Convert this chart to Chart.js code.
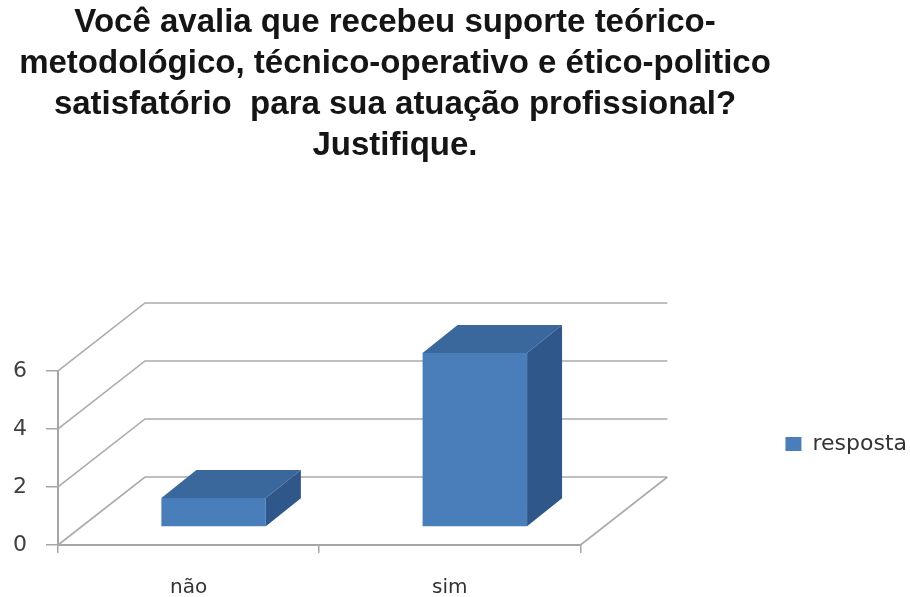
<!DOCTYPE html>
<html lang="pt">
<head>
    <meta charset="UTF-8">
    <title>Suporte para atuação profissional</title>
    <script src="https://cdn.jsdelivr.net/npm/chart.js"></script>
    <style>
        body { margin: 0; background: #fff; }
    </style>
</head>
<body>

    <canvas id="respostaChart" width="910" height="597"></canvas>

    <script>
        const titleLines = [
            'Você avalia que recebeu suporte teórico-',
            'metodológico, técnico-operativo e ético-politico',
            'satisfatório  para sua atuação profissional?',
            'Justifique.'
        ];
        const categories = ['não', 'sim'];
        const respostaValues = [1, 6];
        const seriesLabel = 'resposta';
        const yMin = 0, yMax = 6, yStep = 2;

        // fake 3D: depth of the walls and of the bars
        const WALL_DX = 87, WALL_DY = -68;
        const BAR_OX = 25, BAR_OY = -18;
        const BAR_DX = 35, BAR_DY = -28;

        const gridGray = '#ababab';
        const axisGray = '#a6a6a6';

        const depth3d = {
            id: 'depth3d',
            afterLayout(chart) {
                // title centred a bit left of the canvas, legend pushed to the right
                chart.titleBlock.left = -120;
                chart.titleBlock.right = 910;
                chart.legend.left += 195;
                chart.legend.right += 195;
                chart.legend.top = 424;
                chart.legend.bottom = 464;
            },
            beforeDatasetsDraw(chart) {
                const { ctx, chartArea: a, scales: { y } } = chart;
                ctx.save();
                ctx.strokeStyle = gridGray;
                ctx.lineWidth = 1.6;
                ctx.beginPath();
                y.ticks.forEach(t => {
                    const py = y.getPixelForValue(t.value);
                    ctx.moveTo(a.left, py);
                    ctx.lineTo(a.left + WALL_DX, py + WALL_DY);
                    ctx.lineTo(a.right + WALL_DX, py + WALL_DY);
                });
                const py0 = y.getPixelForValue(yMin);
                ctx.moveTo(a.right, py0);
                ctx.lineTo(a.right + WALL_DX, py0 + WALL_DY);
                ctx.stroke();

                // top and side faces of each bar
                chart.getDatasetMeta(0).data.forEach(bar => {
                    const { x, y: top, base, width } = bar.getProps(['x', 'y', 'base', 'width'], true);
                    const L = x - width / 2 + BAR_OX, R = x + width / 2 + BAR_OX;
                    const T = top + BAR_OY, B = base + BAR_OY;
                    ctx.fillStyle = '#3a679c';
                    ctx.beginPath();
                    ctx.moveTo(L, T);
                    ctx.lineTo(L + BAR_DX, T + BAR_DY);
                    ctx.lineTo(R + BAR_DX, T + BAR_DY);
                    ctx.lineTo(R, T);
                    ctx.closePath();
                    ctx.fill();
                    ctx.fillStyle = '#30578a';
                    ctx.beginPath();
                    ctx.moveTo(R, T);
                    ctx.lineTo(R + BAR_DX, T + BAR_DY);
                    ctx.lineTo(R + BAR_DX, B + BAR_DY);
                    ctx.lineTo(R, B);
                    ctx.closePath();
                    ctx.fill();
                });
                ctx.restore();

                // front faces are drawn by Chart.js, shifted into the box
                ctx.save();
                ctx.translate(BAR_OX, BAR_OY);
            },
            afterDatasetsDraw(chart) {
                chart.ctx.restore();
            }
        };

        Chart.defaults.font.family = 'DejaVu Sans';
        Chart.defaults.color = '#404040';

        const ctx = document.getElementById('respostaChart').getContext('2d');

        new Chart(ctx, {
            type: 'bar',
            data: {
                labels: categories,
                datasets: [{
                    label: seriesLabel,
                    data: respostaValues,
                    backgroundColor: '#4a7ebb',
                    borderWidth: 0,
                    barPercentage: 0.4,
                    categoryPercentage: 1.0,
                    clip: false
                }]
            },
            options: {
                responsive: false,
                animation: false,
                layout: { padding: { top: 0, bottom: 0, left: 0, right: 188 } },
                scales: {
                    x: {
                        offset: true,
                        grid: {
                            offset: true,
                            drawOnChartArea: false,
                            drawTicks: true,
                            tickLength: 8,
                            color: axisGray,
                            lineWidth: 1.5
                        },
                        border: { display: true, color: axisGray, width: 2 },
                        ticks: { font: { size: 20 }, padding: 23, color: '#333' },
                        afterFit(scale) { scale.height = 52; }
                    },
                    y: {
                        min: yMin,
                        max: yMax,
                        ticks: { stepSize: yStep, font: { size: 22 }, padding: 19, color: '#404040' },
                        grid: {
                            drawOnChartArea: false,
                            drawTicks: true,
                            tickLength: 12,
                            color: axisGray,
                            lineWidth: 1.5
                        },
                        border: { display: true, color: axisGray, width: 2 },
                        afterFit(scale) { scale.width = 58; }
                    }
                },
                plugins: {
                    title: {
                        display: true,
                        text: titleLines,
                        color: '#151515',
                        font: { family: 'Liberation Sans', size: 33, weight: 'bold', lineHeight: 1.242 },
                        padding: { top: 2, bottom: 205 }
                    },
                    legend: {
                        position: 'right',
                        labels: {
                            boxWidth: 16,
                            boxHeight: 14,
                            padding: 10,
                            color: '#333',
                            font: { size: 22 }
                        }
                    },
                    tooltip: { enabled: false }
                }
            },
            plugins: [depth3d]
        });
    </script>

</body>
</html>
